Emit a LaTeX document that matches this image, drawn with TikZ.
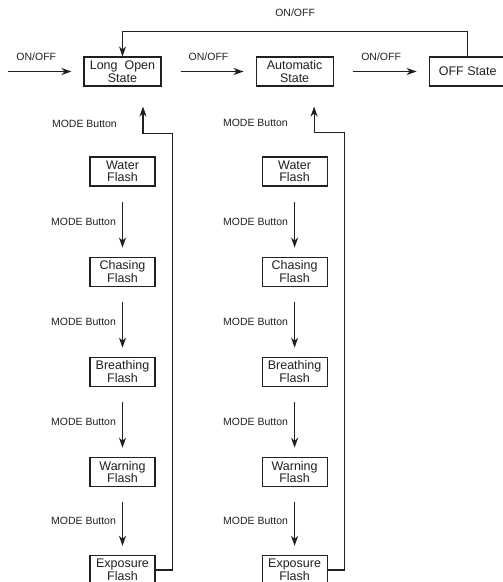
\documentclass[tikz,border=0pt]{standalone}
\usepackage{fontspec}
\setmainfont{Liberation Sans}
\usetikzlibrary{positioning,arrows.meta,calc}
\definecolor{ink}{HTML}{231F20}
\tikzset{
  state/.style={draw=ink, line width=1.1pt, fill=white, align=center, text=ink,
                font=\fontsize{12.5}{12.5}\selectfont, inner sep=1pt,
                minimum width=77pt, minimum height=29pt},
  flash/.style={state, minimum width=65pt},
  flow/.style={-{Stealth[length=10pt,width=7pt,inset=3pt]}, line width=1.2pt, draw=ink},
  modeflow/.style={flow, shorten <=15pt, shorten >=9pt},
  pwrflow/.style={flow, shorten <=19pt, shorten >=12pt},
  evt/.style={font=\fontsize{10.5}{12}\selectfont, text=ink, inner sep=0pt},
}

\begin{document}
\begin{tikzpicture}[x=1pt,y=-1pt]
  \clip (0,0) rectangle (503,582);
  % states
  \node[state] (lo) at (122.5,71.5) {Long\ \ Open\\State};
  \node[state, right=94pt of lo] (auto) {Automatic\\State};
  \node[state, right=95pt of auto] (off) {OFF State};
  \coordinate (pwr) at (8,71.5);
  % ON/OFF chain
  \draw[flow, shorten >=12pt] (pwr) -- node[evt, pos=0.375, above=10pt] (k0) {ON/OFF} (lo);
  \draw[pwrflow] (lo) -- node[evt, above=10pt] (k1) {ON/OFF} (auto);
  \draw[pwrflow] (auto) -- node[evt, above=10pt] (k2) {ON/OFF} (off);
  \draw[flow] (off.north) -- ++(0,-25) -| node[evt, pos=0.25, above=14pt] (k3) {ON/OFF} (lo.north);
  % flash modes, long open side
  \node[flash] (lx1) at (122.5,171.5) {Water\\Flash};
  \node[flash, below=70pt of lx1] (lx2) {Chasing\\Flash};
  \node[flash, below=70pt of lx2] (lx3) {Breathing\\Flash};
  \node[flash, below=70pt of lx3] (lx4) {Warning\\Flash};
  \node[flash, below=68pt of lx4] (lx5) {Exposure\\Flash};
  \draw[modeflow] (lx1) -- node[evt, left=6pt] (lm1) {MODE Button} (lx2);
  \draw[modeflow] (lx2) -- node[evt, left=6pt] (lm2) {MODE Button} (lx3);
  \draw[modeflow] (lx3) -- node[evt, left=6pt] (lm3) {MODE Button} (lx4);
  \draw[modeflow] (lx4) -- node[evt, left=6pt] (lm4) {MODE Button} (lx5);
  \coordinate (lup) at ($(lo.south)+(20.5,20)$);
  \node[evt, anchor=east] (lm0) at (117,124) {MODE Button};
  \draw[flow] (lx5.east) -- ++(17,0) |- ($(lup)+(0,27)$) -- (lup);
  % flash modes, automatic side
  \node[flash, right=106pt of lx1] (rx1) {Water\\Flash};
  \node[flash, below=70pt of rx1] (rx2) {Chasing\\Flash};
  \node[flash, below=70pt of rx2] (rx3) {Breathing\\Flash};
  \node[flash, below=70pt of rx3] (rx4) {Warning\\Flash};
  \node[flash, below=68pt of rx4] (rx5) {Exposure\\Flash};
  \draw[modeflow] (rx1) -- node[evt, left=6pt] (rm1) {MODE Button} (rx2);
  \draw[modeflow] (rx2) -- node[evt, left=6pt] (rm2) {MODE Button} (rx3);
  \draw[modeflow] (rx3) -- node[evt, left=6pt] (rm3) {MODE Button} (rx4);
  \draw[modeflow] (rx4) -- node[evt, left=6pt] (rm4) {MODE Button} (rx5);
  \coordinate (rup) at ($(auto.south)+(19.5,20)$);
  \node[evt, anchor=east] (rm0) at (288,123) {MODE Button};
  \draw[flow] (rx5.east) -- ++(17,0) |- ($(rup)+(0,26)$) -- (rup);
\end{tikzpicture}
\end{document}
